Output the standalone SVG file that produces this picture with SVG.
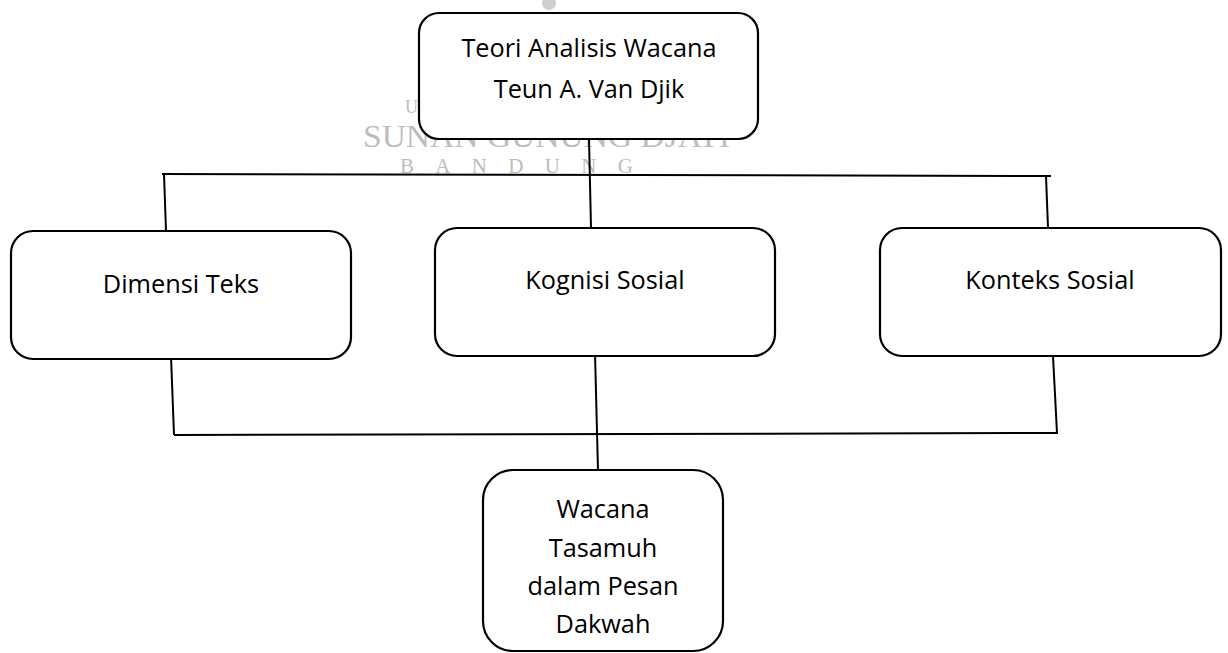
<svg xmlns="http://www.w3.org/2000/svg" width="1228" height="653" viewBox="0 0 1228 653">
<style>
.box{fill:#fff;stroke:#000;stroke-width:2.2}
.lbl{font-family:"Open Sans","Liberation Sans",sans-serif;font-size:25.3px;fill:#000;text-anchor:middle}
.conn line{stroke:#000;stroke-width:2}
.wm{font-family:"Liberation Serif",serif;fill:#bdbdbd}
</style>
<rect width="1228" height="653" fill="#fff"/>
<g id="watermark">
<circle cx="549" cy="3" r="7" fill="#cfcfcf"/>
<text class="wm" x="405" y="113" font-size="18">U</text>
<text class="wm" x="363" y="147" font-size="32" textLength="367" lengthAdjust="spacingAndGlyphs">SUNAN GUNUNG DJATI</text>
<text class="wm" x="400" y="173" font-size="21" textLength="233" lengthAdjust="spacing">BANDUNG</text>
</g>
<g id="connectors" class="conn">
<line x1="589" y1="139" x2="591" y2="228"/>
<line x1="162" y1="174" x2="1051" y2="176"/>
<line x1="164" y1="174" x2="166" y2="231"/>
<line x1="1046" y1="176" x2="1048" y2="228"/>
<line x1="171" y1="356" x2="174" y2="435"/>
<line x1="174" y1="435" x2="1058" y2="433"/>
<line x1="1053" y1="356" x2="1057" y2="433"/>
<line x1="595" y1="353" x2="598" y2="471"/>
</g>
<g id="node-teori">
<rect class="box" x="419" y="13" width="339" height="126" rx="20"/>
<text class="lbl" x="589" y="57">Teori Analisis Wacana</text>
<text class="lbl" x="589" y="98">Teun A. Van Djik</text>
</g>
<g id="node-dimensi">
<rect class="box" x="11" y="231" width="340" height="128" rx="22"/>
<text class="lbl" x="181" y="293">Dimensi Teks</text>
</g>
<g id="node-kognisi">
<rect class="box" x="435" y="228" width="340" height="128" rx="22"/>
<text class="lbl" x="605" y="289">Kognisi Sosial</text>
</g>
<g id="node-konteks">
<rect class="box" x="880" y="228" width="341" height="128" rx="22"/>
<text class="lbl" x="1050" y="289">Konteks Sosial</text>
</g>
<g id="node-wacana">
<rect class="box" x="483" y="470" width="240" height="181" rx="30"/>
<text class="lbl" x="603" y="518">Wacana</text>
<text class="lbl" x="603" y="557">Tasamuh</text>
<text class="lbl" x="603" y="595">dalam Pesan</text>
<text class="lbl" x="603" y="633">Dakwah</text>
</g>
</svg>
